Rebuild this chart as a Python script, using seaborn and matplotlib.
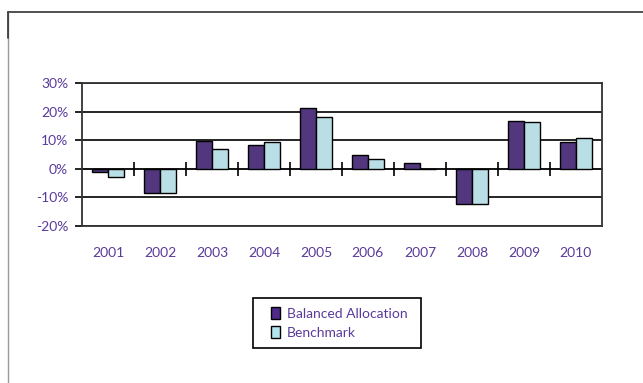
import pandas as pd
import matplotlib.pyplot as plt
import seaborn as sns
from matplotlib.lines import Line2D

# Chart data
years = ['2001', '2002', '2003', '2004', '2005', '2006', '2007', '2008', '2009', '2010']
balanced = [-1.1, -8.5, 9.9, 8.4, 21.2, 4.9, 2.0, -12.4, 16.9, 9.5]
benchmark = [-3.0, -8.5, 7.0, 9.5, 18.3, 3.5, 0.0, -12.4, 16.5, 10.9]
series_names = ['Balanced Allocation', 'Benchmark']
y_ticks = [-20, -10, 0, 10, 20, 30]

purple_text = '#5a3a9a'
colors = ['#4f2a8a', '#b3e3ec']

df = pd.DataFrame({
    'Year': years * 2,
    'Return': balanced + benchmark,
    'Series': [series_names[0]] * len(years) + [series_names[1]] * len(years),
})

sns.set_style('white')
plt.rcParams['font.family'] = ['Lato', 'DejaVu Sans']

fig = plt.figure(figsize=(6.43, 3.83), dpi=100)
ax = fig.add_axes([0.1275, 0.41, 0.8085, 0.373])

sns.barplot(data=df, x='Year', y='Return', hue='Series', palette=colors,
            width=0.62, gap=0, edgecolor='black', linewidth=1.0, ax=ax,
            legend=False, zorder=3)

ax.set_ylim(-20, 30)
ax.set_xlim(-0.5, len(years) - 0.5)
ax.set_yticks(y_ticks)
ax.set_yticklabels([f'{v}%' for v in y_ticks])
for v in y_ticks:
    if v != 0:
        ax.axhline(v, color='black', lw=1.2, zorder=1)
ax.set_xlabel('')
ax.set_ylabel('')

for s in ax.spines.values():
    s.set_color('#333333')
    s.set_linewidth(1.3)

ax.tick_params(axis='y', colors='black', labelcolor=purple_text, labelsize=10,
               direction='out', length=5, width=1.2, left=True, pad=5)
ax.tick_params(axis='x', labelcolor=purple_text, labelsize=10, length=0, pad=15)

# zero line with category separator ticks
zero = ax.secondary_xaxis((0 - y_ticks[0]) / (y_ticks[-1] - y_ticks[0]))
zero.set_xticks([i + 0.5 for i in range(len(years) - 1)])
zero.set_xticklabels([])
zero.tick_params(direction='inout', length=10, width=1.2, color='black')
zero.spines['bottom'].set_linewidth(1.3)
zero.spines['bottom'].set_color('black')

# outer chart border (top and left)
fig.add_artist(Line2D([0.0125, 1.0], [0.968, 0.968], color='#333333', lw=1.2))
fig.add_artist(Line2D([0.0125, 0.0125], [0.0, 0.968], color='#999999', lw=1.0))
fig.add_artist(Line2D([0.0125, 0.0125], [0.90, 0.968], color='#333333', lw=1.2))

# legend box drawn separately so it can be wider than its contents
fig.add_artist(plt.Rectangle((0.3935, 0.0914), 0.2613, 0.1305, fill=False,
                             edgecolor='black', lw=1.2, transform=fig.transFigure))
handles = [plt.Rectangle((0, 0), 1, 1, facecolor=c, edgecolor='black', lw=1) for c in colors]
leg = fig.legend(handles, series_names, loc='center', bbox_to_anchor=(0.527, 0.157),
                 frameon=False, fontsize=10,
                 handlelength=0.7, handleheight=0.9, handletextpad=0.45,
                 borderpad=0.3, labelspacing=0.45)
for t in leg.get_texts():
    t.set_color(purple_text)

fig.savefig('out.png', dpi=100)
